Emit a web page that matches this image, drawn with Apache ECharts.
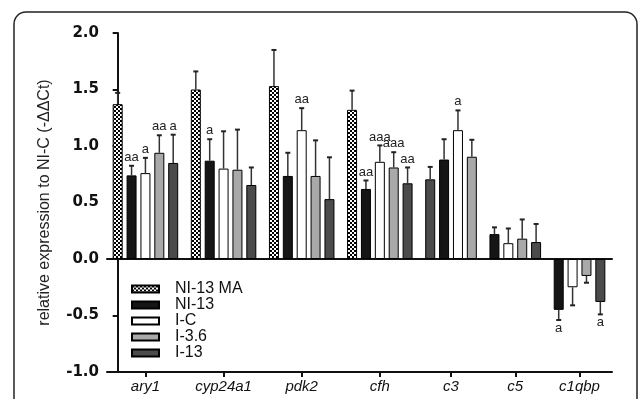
<!DOCTYPE html>
<html>
<head>
<meta charset="utf-8">
<script src="https://cdn.jsdelivr.net/npm/echarts@6/dist/echarts.min.js"></script>
<style>
  html, body { margin: 0; padding: 0; background: #fff; }
  #chart { width: 639px; height: 399px; }
</style>
</head>
<body>
<div id="chart"></div>
<script>
// genes on the x axis, groups of bars
const genes = ['ary1', 'cyp24a1', 'pdk2', 'cfh', 'c3', 'c5', 'c1qbp']
const seriesNames = ['NI-13 MA', 'NI-13', 'I-C', 'I-3.6', 'I-13']

// means (-ΔΔCt), null = not measured
const maMean = [1.37, 1.50, 1.53, 1.32, null, null, null]
const ni13Mean = [0.74, 0.87, 0.735, 0.62, 0.88, 0.22, -0.45]
const icMean = [0.76, 0.80, 1.14, 0.86, 1.14, 0.14, -0.25]
const i36Mean = [0.94, 0.79, 0.735, 0.81, 0.905, 0.18, -0.15]
const i13Mean = [0.85, 0.655, 0.53, 0.67, 0.705, 0.15, -0.38]

// error bar lengths
const maErr = [0.10, 0.16, 0.32, 0.17, null, null, null]
const ni13Err = [0.085, 0.19, 0.205, 0.075, 0.18, 0.06, 0.09]
const icErr = [0.135, 0.33, 0.195, 0.145, 0.175, 0.13, 0.16]
const i36Err = [0.155, 0.355, 0.315, 0.135, 0.15, 0.17, 0.06]
const i13Err = [0.25, 0.155, 0.37, 0.14, 0.11, 0.16, 0.11]

// significance letters
const maSig = ['', '', '', '', '', '', '']
const ni13Sig = ['aa', 'a', '', 'aa', '', '', 'a']
const icSig = ['a', '', 'aa', 'aaa', 'a', '', '']
const i36Sig = ['aa', '', '', 'aaa', '', '', '']
const i13Sig = ['a', '', '', 'aa', '', '', 'a']

// order of the series inside each gene group (as in the figure)
const barOrder = [
  [0, 1, 2, 3, 4], [0, 1, 2, 3, 4], [0, 1, 2, 3, 4], [0, 1, 2, 3, 4],
  [4, 1, 2, 3], [1, 2, 3, 4], [1, 2, 3, 4],
]

const yTicks = [-1.0, -0.5, 0.0, 0.5, 1.0, 1.5, 2.0]

const means = [maMean, ni13Mean, icMean, i36Mean, i13Mean]
const errs = [maErr, ni13Err, icErr, i36Err, i13Err]
const sigs = [maSig, ni13Sig, icSig, i36Sig, i13Sig]

const GROUP_GAP = 0.63
const X_MIN = -0.77

// bar slots along a value axis: one unit per bar, extra gap between genes
let slot = 0
const barPos = means.map(() => [])
const centers = []
barOrder.forEach((order, g) => {
  const first = slot + g * GROUP_GAP
  order.forEach((s) => {
    barPos[s][g] = slot + g * GROUP_GAP
    slot++
  })
  centers.push((first + slot - 1 + g * GROUP_GAP) / 2)
})
const X_MAX = slot - 1 + (genes.length - 1) * GROUP_GAP + 0.84

// checkered fill for NI-13 MA
const pat = document.createElement('canvas')
pat.width = 4
pat.height = 4
const pc = pat.getContext('2d')
pc.fillStyle = '#fff'
pc.fillRect(0, 0, 4, 4)
pc.fillStyle = '#000'
pc.fillRect(0, 0, 2, 2)
pc.fillRect(2, 2, 2, 2)

const fills = [
  { image: pat, repeat: 'repeat' },
  '#151515', '#ffffff', '#a9a9a9', '#4b4b4b',
]

const barSeries = seriesNames.map((name, s) => ({
  name,
  type: 'bar',
  xAxisIndex: 0,
  barWidth: 10,
  barGap: '-100%',
  itemStyle: { color: fills[s], borderColor: '#000', borderWidth: 1 },
  data: means[s]
    .map((v, g) => (v == null ? null : [barPos[s][g], v]))
    .filter((d) => d),
}))

const errData = []
means.forEach((arr, s) => {
  arr.forEach((v, g) => {
    if (v == null) return
    errData.push([barPos[s][g], v, errs[s][g], sigs[s][g]])
  })
})

const errSeries = {
  type: 'custom',
  xAxisIndex: 0,
  z: 5,
  silent: true,
  data: errData,
  renderItem(params, api) {
    const x = api.value(0)
    const v = api.value(1)
    const e = api.value(2)
    const sig = errData[params.dataIndex][3]
    const dir = v < 0 ? -1 : 1
    const base = api.coord([x, v])
    const tip = api.coord([x, v + dir * e])
    const lineStyle = { stroke: '#333', lineWidth: 1.5 }
    const kids = [
      { type: 'line', shape: { x1: base[0], y1: base[1], x2: tip[0], y2: tip[1] }, style: lineStyle },
      { type: 'line', shape: { x1: tip[0] - 2.5, y1: tip[1], x2: tip[0] + 2.5, y2: tip[1] }, style: { stroke: '#222', lineWidth: 2 } },
    ]
    if (sig) {
      kids.push({
        type: 'text',
        x: tip[0],
        y: tip[1] - dir * 2,
        style: {
          text: sig,
          align: 'center',
          verticalAlign: dir > 0 ? 'bottom' : 'top',
          font: '13px "Liberation Sans", Arial, sans-serif',
          fill: '#222',
        },
      })
    }
    return { type: 'group', children: kids }
  },
}

const chart = echarts.init(document.getElementById('chart'))
chart.setOption({
  animation: false,
  backgroundColor: '#fff',
  graphic: [{
    type: 'rect',
    shape: { x: 14, y: 12, width: 623, height: 420, r: 12 },
    style: { fill: 'none', stroke: '#222', lineWidth: 1.5 },
    silent: true,
  }],
  legend: {
    orient: 'vertical',
    left: 126,
    top: 276,
    itemWidth: 27,
    itemHeight: 7,
    itemGap: 0,
    selectedMode: false,
    icon: 'rect',
    data: seriesNames,
    textStyle: {
      fontFamily: '"Liberation Sans", Arial, sans-serif',
      fontSize: 16,
      lineHeight: 15,
      color: '#111',
      padding: [0, 0, 0, 11],
    },
  },
  grid: { left: 107, right: 27, top: 33, bottom: 27 },
  xAxis: [
    {
      type: 'value',
      min: X_MIN,
      max: X_MAX,
      axisLine: { onZero: true, lineStyle: { color: '#111', width: 2 } },
      axisTick: { show: false },
      axisLabel: { show: false },
      splitLine: { show: false },
    },
    {
      type: 'value',
      min: X_MIN,
      max: X_MAX,
      position: 'bottom',
      axisLine: { onZero: false, lineStyle: { color: '#111', width: 2 } },
      axisTick: { customValues: centers, length: 5, lineStyle: { color: '#111', width: 2 } },
      axisLabel: {
        customValues: centers,
        margin: 7,
        formatter: (val) => {
          let best = 0
          centers.forEach((c, i) => { if (Math.abs(c - val) < Math.abs(centers[best] - val)) best = i })
          return genes[best]
        },
        fontFamily: '"Liberation Sans", Arial, sans-serif',
        fontStyle: 'italic',
        fontSize: 15,
        color: '#111',
      },
      splitLine: { show: false },
    },
  ],
  yAxis: {
    type: 'value',
    min: yTicks[0],
    max: yTicks[yTicks.length - 1],
    interval: 0.5,
    name: 'relative expression to NI-C (-ΔΔCt)',
    nameLocation: 'middle',
    nameGap: 54,
    nameTextStyle: {
      fontFamily: '"Liberation Sans", Arial, sans-serif',
      fontSize: 16,
      color: '#222',
    },
    axisLine: { show: true, lineStyle: { color: '#111', width: 2 } },
    axisTick: { show: true, length: 5, lineStyle: { color: '#111', width: 2 } },
    axisLabel: {
      margin: 8,
      formatter: (v) => v.toFixed(1),
      fontFamily: '"DejaVu Sans", sans-serif',
      fontWeight: 'bold',
      fontSize: 15,
      color: '#111',
    },
    splitLine: { show: false },
  },
  series: [...barSeries, errSeries],
})
</script>
</body>
</html>
